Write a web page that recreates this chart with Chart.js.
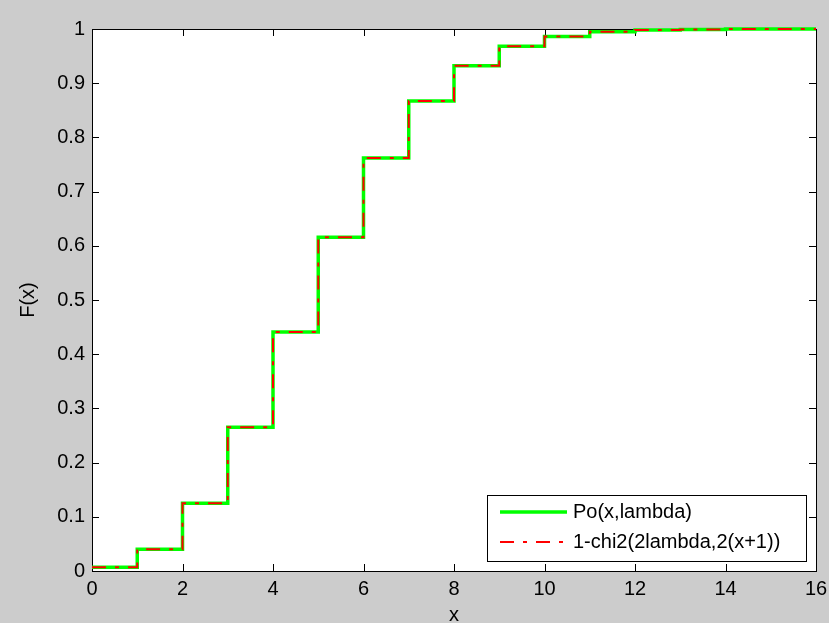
<!DOCTYPE html>
<html>
<head>
<meta charset="utf-8">
<script src="https://cdn.jsdelivr.net/npm/chart.js@4"></script>
<style>
  html, body { margin: 0; padding: 0; background: #cccccc; }
  #wrap { width: 829px; height: 623px; }
</style>
</head>
<body>
<div id="wrap"><canvas id="c" width="829" height="623"></canvas></div>
<script>
// ---- data ----
const xValues = [0, 1, 2, 3, 4, 5, 6, 7, 8, 9, 10, 11, 12, 13, 14, 15, 16];
const poissonCdf = [0.007, 0.040, 0.125, 0.265, 0.441, 0.616, 0.762, 0.867, 0.932, 0.968, 0.986, 0.995, 0.998, 0.999, 1.0, 1.0, 1.0];
const chi2Cdf    = [0.007, 0.040, 0.125, 0.265, 0.441, 0.616, 0.762, 0.867, 0.932, 0.968, 0.986, 0.995, 0.998, 0.999, 1.0, 1.0, 1.0];
const seriesLabels = ['Po(x,lambda)', '1-chi2(2lambda,2(x+1))'];
const xTickLabels = ['0', '2', '4', '6', '8', '10', '12', '14', '16'];
const yTickLabels = ['0', '0.1', '0.2', '0.3', '0.4', '0.5', '0.6', '0.7', '0.8', '0.9', '1'];
const xAxisTitle = 'x';
const yAxisTitle = 'F(x)';

const FONT = "'Liberation Sans', Arial, sans-serif";
const FS = 20;

const toPoints = (ys) => xValues.map((x, i) => ({ x: x, y: ys[i] }));

const axesPlugin = {
  id: 'matlabAxes',
  beforeDatasetsDraw(chart) {
    const { ctx, chartArea: a, scales } = chart;
    ctx.save();
    ctx.fillStyle = '#ffffff';
    ctx.fillRect(a.left, a.top, a.right - a.left, a.bottom - a.top);
    ctx.strokeStyle = '#000000';
    ctx.lineWidth = 1;
    const TL = 7;
    ctx.beginPath();
    scales.x.ticks.forEach(t => {
      const px = Math.round(scales.x.getPixelForValue(t.value)) + 0.5;
      ctx.moveTo(px, a.bottom); ctx.lineTo(px, a.bottom - TL);
      ctx.moveTo(px, a.top); ctx.lineTo(px, a.top + TL);
    });
    scales.y.ticks.forEach(t => {
      const py = Math.round(scales.y.getPixelForValue(t.value)) + 0.5;
      ctx.moveTo(a.left, py); ctx.lineTo(a.left + TL, py);
      ctx.moveTo(a.right, py); ctx.lineTo(a.right - TL, py);
    });
    ctx.stroke();
    ctx.strokeRect(Math.round(a.left) + 0.5, Math.round(a.top) + 0.5,
                   Math.round(a.right - a.left), Math.round(a.bottom - a.top));
    ctx.restore();
  },
  afterDraw(chart) {
    const { ctx } = chart;
    const box = { x: 487.5, y: 495.5, w: 319, h: 66 };
    ctx.save();
    ctx.fillStyle = '#ffffff';
    ctx.fillRect(box.x, box.y, box.w, box.h);
    ctx.strokeStyle = '#000000';
    ctx.lineWidth = 1;
    ctx.strokeRect(box.x, box.y, box.w, box.h);
    const rows = [512, 542];
    chart.data.datasets.forEach((ds, i) => {
      const y = rows[i];
      ctx.beginPath();
      ctx.strokeStyle = ds.borderColor;
      ctx.lineWidth = ds.borderWidth;
      ctx.setLineDash(ds.borderDash || []);
      ctx.moveTo(500, y); ctx.lineTo(567, y);
      ctx.stroke();
      ctx.setLineDash([]);
      ctx.fillStyle = '#000000';
      ctx.font = FS + 'px ' + FONT;
      ctx.textBaseline = 'middle';
      ctx.textAlign = 'left';
      ctx.fillText(ds.label, 573, y);
    });
    ctx.restore();
  }
};

new Chart(document.getElementById('c'), {
  type: 'line',
  data: {
    datasets: [
      {
        label: seriesLabels[0],
        data: toPoints(poissonCdf),
        borderColor: '#00ff00',
        borderWidth: 3.5,
        stepped: true,
        pointRadius: 0,
        fill: false,
        clip: false,
        order: 2
      },
      {
        label: seriesLabels[1],
        data: toPoints(chi2Cdf),
        borderColor: '#ff0000',
        borderWidth: 2,
        borderDash: [14, 9, 4, 9],
        stepped: true,
        pointRadius: 0,
        fill: false,
        clip: false,
        order: 1
      }
    ]
  },
  options: {
    responsive: false,
    animation: false,
    devicePixelRatio: 1,
    layout: { padding: { left: 0, top: 29, right: 13, bottom: 0 } },
    plugins: { legend: { display: false }, tooltip: { enabled: false } },
    scales: {
      x: {
        type: 'linear',
        min: 0, max: 16,
        afterBuildTicks(scale) { scale.ticks = xTickLabels.map(v => ({ value: Number(v) })); },
        ticks: {
          callback: (v, i) => xTickLabels[i],
          color: '#000000',
          font: { family: FONT, size: FS },
          padding: 6,
          maxRotation: 0,
          autoSkip: false
        },
        grid: { display: false, drawTicks: false },
        border: { display: false },
        title: {
          display: true, text: xAxisTitle, color: '#000000',
          font: { family: FONT, size: FS, lineHeight: 1 },
          padding: { top: 0, bottom: -2 }
        },
        afterFit(scale) { scale.height = 52; scale.paddingLeft = 0; scale.paddingRight = 0; }
      },
      y: {
        type: 'linear',
        min: 0, max: 1,
        afterBuildTicks(scale) { scale.ticks = yTickLabels.map(v => ({ value: Number(v) })); },
        ticks: {
          callback: (v, i) => yTickLabels[i],
          color: '#000000',
          font: { family: FONT, size: FS },
          padding: 7,
          autoSkip: false
        },
        grid: { display: false, drawTicks: false },
        border: { display: false },
        title: {
          display: true, text: yAxisTitle, color: '#000000',
          font: { family: FONT, size: FS, lineHeight: 1.2 },
          padding: { top: 16, bottom: 0 }
        },
        afterFit(scale) { scale.width = 92; scale.paddingTop = 0; scale.paddingBottom = 0; }
      }
    }
  },
  plugins: [axesPlugin]
});
</script>
</body>
</html>
